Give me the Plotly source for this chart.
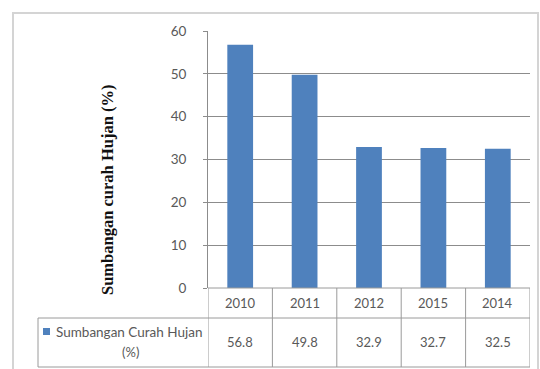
import plotly.graph_objects as go

# Annual rainfall contribution data
years = ["2010", "2011", "2012", "2015", "2014"]
values = [56.8, 49.8, 32.9, 32.7, 32.5]
series_name = "Sumbangan Curah Hujan (%)"
y_title = "Sumbangan curah Hujan (%)"
y_ticks = [0, 10, 20, 30, 40, 50, 60]

W, H = 540, 369
BAR_COLOR = "#4F81BD"
GRID = "#8c8c8c"
TABLE_LINE = "#9a9a9a"
TXT = "#595959"


def px(x):
    return x / W


def py(y):
    return 1 - y / H


# plot area in pixels
X0, X1 = 208, 530
Y_TOP, Y_ZERO = 31, 288
ROW1_BOTTOM, TABLE_BOTTOM = 318, 367
LEGEND_LEFT = 38

fig = go.Figure()
fig.add_trace(go.Bar(
    x=years, y=values, name=series_name,
    marker=dict(color=BAR_COLOR, line=dict(width=0)),
    width=0.4, showlegend=False,
))

fig.update_layout(
    width=W, height=H, autosize=False,
    margin=dict(l=0, r=0, t=0, b=0, pad=0, autoexpand=False),
    paper_bgcolor="white", plot_bgcolor="white",
    font=dict(family="Lato, 'Open Sans', sans-serif", color=TXT),
    xaxis=dict(
        type="category", categoryorder="array", categoryarray=years,
        domain=[px(X0), px(X1)], range=[-0.5, 4.5], automargin=False,
        showticklabels=False, showgrid=False, zeroline=False,
        showline=False, fixedrange=True,
    ),
    yaxis=dict(
        domain=[py(Y_ZERO), py(Y_TOP)], range=[0, 60], automargin=False,
        tickvals=y_ticks, ticks="outside", ticklen=4, tickcolor=GRID,
        showgrid=True, gridcolor=GRID, gridwidth=1,
        zeroline=False, showline=True, linecolor=GRID, linewidth=1,
        tickfont=dict(size=13.5, color=TXT), ticklabelstandoff=14,
        fixedrange=True,
    ),
)

shapes = []
line = dict(color=TABLE_LINE, width=1)

# outer chart frame
shapes.append(dict(type="rect", xref="paper", yref="paper",
                   x0=px(13), x1=px(538), y0=py(380), y1=py(13),
                   line=dict(color="#d4d4d4", width=2), layer="below"))

# data table grid
shapes.append(dict(type="line", xref="paper", yref="paper",
                   x0=px(X0), x1=px(X1), y0=py(Y_ZERO), y1=py(Y_ZERO), line=line))
shapes.append(dict(type="line", xref="paper", yref="paper",
                   x0=px(LEGEND_LEFT), x1=px(X1), y0=py(ROW1_BOTTOM), y1=py(ROW1_BOTTOM), line=line))
shapes.append(dict(type="line", xref="paper", yref="paper",
                   x0=px(LEGEND_LEFT), x1=px(X1), y0=py(TABLE_BOTTOM), y1=py(TABLE_BOTTOM), line=line))
shapes.append(dict(type="line", xref="paper", yref="paper",
                   x0=px(LEGEND_LEFT), x1=px(LEGEND_LEFT), y0=py(ROW1_BOTTOM), y1=py(TABLE_BOTTOM), line=line))
for i in range(len(years) + 1):
    shapes.append(dict(type="line", xref="x", yref="paper",
                       x0=i - 0.5, x1=i - 0.5, y0=py(Y_ZERO), y1=py(TABLE_BOTTOM), line=line))

# legend key square
shapes.append(dict(type="rect", xref="paper", yref="paper",
                   x0=px(43), x1=px(50), y0=py(335), y1=py(328),
                   fillcolor=BAR_COLOR, line=dict(width=0)))

annotations = []
for i, (yr, v) in enumerate(zip(years, values)):
    annotations.append(dict(x=i, y=py(303), xref="x", yref="paper", text=yr,
                            xanchor="center", yanchor="middle",
                            showarrow=False, font=dict(size=13, color=TXT)))
    annotations.append(dict(x=i, y=py(342), xref="x", yref="paper", text=f"{v:.1f}",
                            xanchor="center", yanchor="middle",
                            showarrow=False, font=dict(size=13, color=TXT)))

name_main, name_unit = series_name.rsplit(" ", 1)
annotations.append(dict(x=px(129), y=py(332), xref="paper", yref="paper",
                        xanchor="center", yanchor="middle",
                        text=name_main, showarrow=False, font=dict(size=13.5, color=TXT)))
annotations.append(dict(x=px(130), y=py(352), xref="paper", yref="paper",
                        xanchor="center", yanchor="middle",
                        text=name_unit, showarrow=False, font=dict(size=13, color=TXT)))

annotations.append(dict(x=px(107), y=py(190), xref="paper", yref="paper",
                        xanchor="center", yanchor="middle",
                        text=f"<b>{y_title}</b>", textangle=-90, showarrow=False,
                        font=dict(family="'Liberation Serif', 'Times New Roman', serif",
                                  size=16.5, color="#111111")))

fig.update_layout(shapes=shapes, annotations=annotations)
fig.write_html("out.html")
